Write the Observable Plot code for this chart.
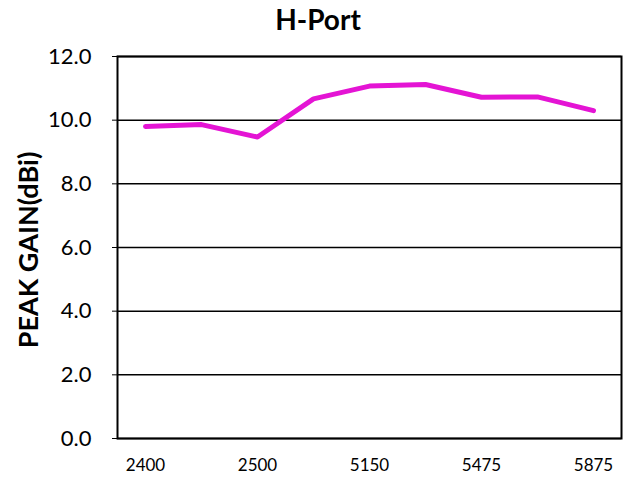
<!DOCTYPE html>
<html>
<head>
<meta charset="utf-8">
<script src="https://cdn.jsdelivr.net/npm/d3@7"></script>
<script src="https://cdn.jsdelivr.net/npm/@observablehq/plot@0.6"></script>
<style>
  body { margin: 0; background: #fff; }
  #chart svg { display: block; }
</style>
</head>
<body>
<div id="chart"></div>
<script>
const freqs = ["2400", "2450", "2500", "4900", "5150", "5350", "5475", "5725", "5875"];
const gains = [9.80, 9.86, 9.47, 10.67, 11.07, 11.12, 10.72, 10.73, 10.30];
const yTicks = [0, 2, 4, 6, 8, 10, 12];
const xLabels = ["2400", "2500", "5150", "5475", "5875"];
const titleText = "H-Port";
const yLabelText = "PEAK GAIN(dBi)";

const data = freqs.map((f, i) => ({f, g: gains[i]}));
const font = "Lato, 'Open Sans', sans-serif";

const chart = Plot.plot({
  width: 635,
  height: 477,
  marginLeft: 117,
  marginRight: 14,
  marginTop: 56,
  marginBottom: 39,
  style: {fontFamily: font, background: "#fff", color: "#000"},
  x: {type: "point", domain: freqs, padding: 0.5, label: null},
  y: {domain: [0, 12], label: null},
  marks: [
    Plot.gridY(yTicks, {stroke: "#000", strokeOpacity: 1, strokeWidth: 1.5}),
    Plot.frame({stroke: "#000", strokeWidth: 2}),
    Plot.axisY({ticks: yTicks, tickFormat: d => d.toFixed(1), tickSize: 5, tickPadding: 21, fontSize: 22, label: null, stroke: "#000"}),
    Plot.axisX({ticks: xLabels, tickSize: 0, tickPadding: 20, fontSize: 17, label: null}),
    Plot.line(data, {x: "f", y: "g", stroke: "#E414D4", strokeWidth: 5, strokeLinecap: "round", strokeLinejoin: "round"})
  ]
});

const svg = d3.select(chart);
svg.append("text")
  .attr("x", 318).attr("y", 30)
  .attr("text-anchor", "middle")
  .attr("font-family", font)
  .attr("font-weight", "bold")
  .attr("font-size", 28)
  .attr("fill", "#000")
  .text(titleText);
svg.append("text")
  .attr("transform", "translate(38,250) rotate(-90)")
  .attr("text-anchor", "middle")
  .attr("font-family", font)
  .attr("font-weight", "bold")
  .attr("font-size", 27)
  .attr("fill", "#000")
  .text(yLabelText);

document.getElementById("chart").appendChild(chart);
</script>
</body>
</html>
